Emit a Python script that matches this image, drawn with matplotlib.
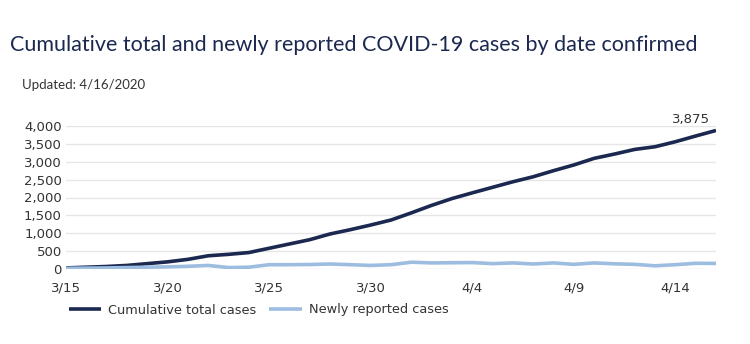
import matplotlib
matplotlib.use("Agg")
import matplotlib.pyplot as plt
import numpy as np

dates = ["3/15","3/16","3/17","3/18","3/19","3/20","3/21","3/22","3/23","3/24",
         "3/25","3/26","3/27","3/28","3/29","3/30","3/31","4/1","4/2","4/3",
         "4/4","4/5","4/6","4/7","4/8","4/9","4/10","4/11","4/12","4/13",
         "4/14","4/15","4/16"]
cumulative = [30, 50, 70, 100, 150, 200, 270, 370, 410, 460,
              580, 700, 820, 980, 1100, 1230, 1370, 1570, 1780, 1970,
              2130, 2285, 2440, 2580, 2750, 2910, 3095, 3215, 3345, 3420,
              3560, 3720, 3875]
newly = [20, 25, 30, 40, 50, 60, 75, 100, 40, 50,
         120, 120, 125, 140, 120, 100, 120, 190, 170, 175,
         180, 150, 170, 140, 170, 130, 170, 145, 130, 90,
         120, 160, 155]
tick_labels = ["3/15", "3/20", "3/25", "3/30", "4/4", "4/9", "4/14"]
y_ticks = [0, 500, 1000, 1500, 2000, 2500, 3000, 3500, 4000]

dark = "#1b2850"
light = "#9cbde0"
tick_font = "DejaVu Sans"

fig = plt.figure(figsize=(7.5, 3.44), dpi=100)
ax = fig.add_axes([66/750, 1-269/344, 650/750, 143/344])

x = np.arange(len(dates))
ax.plot(x, cumulative, color=dark, lw=2.6, label="Cumulative total cases", solid_capstyle="butt")
ax.plot(x, newly, color=light, lw=2.6, label="Newly reported cases", solid_capstyle="butt")

ax.set_xlim(0, len(dates)-1)
ax.set_ylim(0, 4000)
ax.set_yticks(y_ticks)
ax.set_yticklabels([f"{v:,}" for v in y_ticks], family=tick_font)
ax.set_xticks([dates.index(t) for t in tick_labels])
ax.set_xticklabels(tick_labels, family=tick_font)
ax.tick_params(axis="both", length=0, labelsize=9.5, colors="#333333")
ax.tick_params(axis="x", pad=9)
ax.tick_params(axis="y", pad=3)
ax.grid(axis="y", color="#e6e6e6", lw=1)
ax.set_axisbelow(True)
for s in ax.spines.values():
    s.set_visible(False)

ax.annotate(f"{cumulative[-1]:,}", xy=(x[-1], cumulative[-1]), xytext=(-4, 3),
            textcoords="offset points", ha="right", va="bottom", family=tick_font,
            fontsize=9.5, color="#333333", annotation_clip=False)

fig.text(10/750, 1-45/344, "Cumulative total and newly reported COVID-19 cases by date confirmed",
         fontsize=15.5, color="#1b2850", family="Lato", va="center", ha="left")
fig.text(22/750, 1-85/344, "Updated: 4/16/2020", fontsize=9.5, color="#333333",
         family="Lato", va="center", ha="left")

leg = fig.legend(loc="center left", bbox_to_anchor=(57/750, 1-310/344), ncol=2,
                 frameon=False, prop={"family": tick_font, "size": 9.25},
                 handlelength=2.5, columnspacing=1.0, handletextpad=0.6)
for t in leg.get_texts():
    t.set_color("#333333")

fig.savefig("out.png", dpi=100)
